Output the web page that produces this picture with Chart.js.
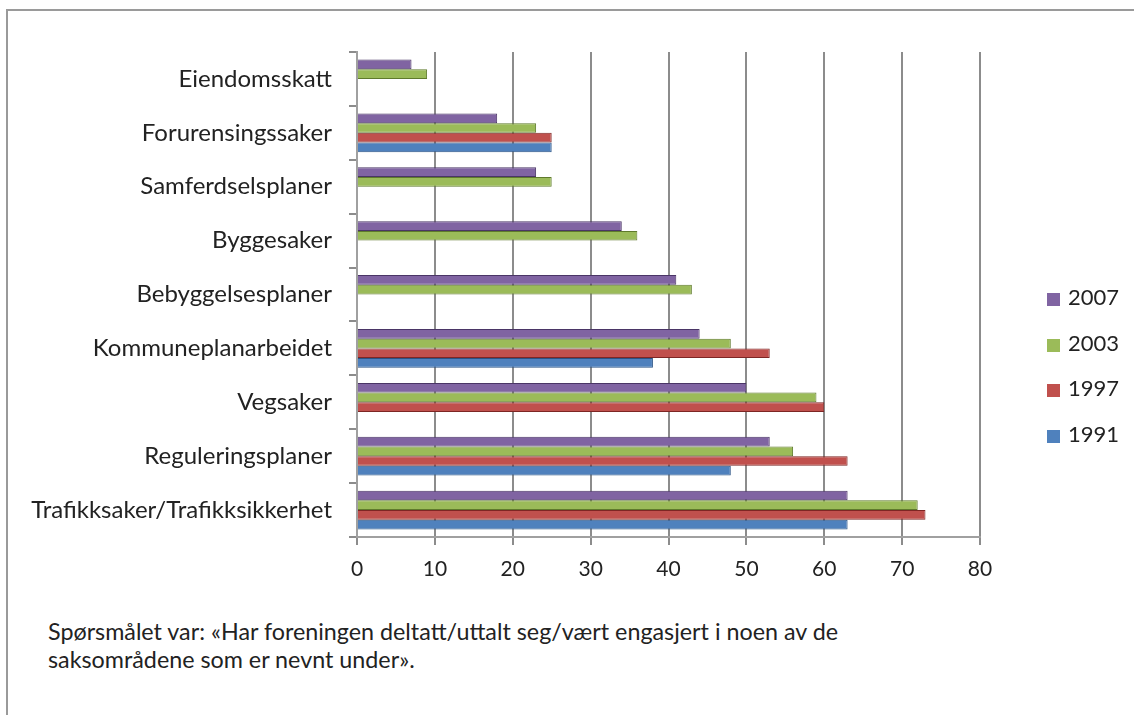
<!DOCTYPE html>
<html>
<head>
<meta charset="utf-8">
<script src="https://cdn.jsdelivr.net/npm/chart.js@4.4.1/dist/chart.umd.min.js"></script>
<style>
  html, body { margin: 0; padding: 0; background: #fff; }
  body { width: 1134px; height: 715px; position: relative; overflow: hidden; font-family: Lato, sans-serif; color: #222; }
  .frame { position: absolute; left: 6px; top: 9px; width: 1200px; height: 800px; border-left: 2px solid #9a9a9a; border-top: 2px solid #9a9a9a; }
  #wrap { position: absolute; left: 0; top: 0; width: 1134px; height: 600px; }
  .legend { position: absolute; left: 1047px; top: 285px; font-size: 22px; }
  .legend div { height: 45.7px; line-height: 24px; white-space: nowrap; }
  .legend span { display: inline-block; width: 13px; height: 13px; margin-right: 8px; vertical-align: -1px; }
  .note { position: absolute; left: 48px; top: 617px; font-size: 23.3px; line-height: 28px; }
</style>
</head>
<body>
<div class="frame"></div>
<div id="wrap"><canvas id="chart"></canvas></div>
<div class="legend" id="legend"></div>
<div class="note">Spørsmålet var: «Har foreningen deltatt/uttalt seg/vært engasjert i noen av de<br>saksområdene som er nevnt under».</div>
<script>
const categories = ['Eiendomsskatt', 'Forurensingssaker', 'Samferdselsplaner', 'Byggesaker', 'Bebyggelsesplaner', 'Kommuneplanarbeidet', 'Vegsaker', 'Reguleringsplaner', 'Trafikksaker/Trafikksikkerhet'];
const v2007 = [7, 18, 23, 34, 41, 44, 50, 53, 63];
const v2003 = [9, 23, 25, 36, 43, 48, 59, 56, 72];
const v1997 = [null, 25, null, null, null, 53, 60, 63, 73];
const v1991 = [null, 25, null, null, null, 38, null, 48, 63];
const xTicks = [0, 10, 20, 30, 40, 50, 60, 70, 80];

const series = [
  { label: '2007', data: v2007, color: '#8064a2', edge: '#4a3566' },
  { label: '2003', data: v2003, color: '#9bbb59', edge: '#5f7a2c' },
  { label: '1997', data: v1997, color: '#c0504d', edge: '#7d2624' },
  { label: '1991', data: v1991, color: '#4f81bd', edge: '#2a5385' }
];

const tickFont = { family: 'Lato', size: 21 };
const catFont = { family: 'Lato', size: 24 };

const chart = new Chart(document.getElementById('chart'), {
  type: 'bar',
  data: {
    labels: categories,
    datasets: series.map(s => ({
      label: s.label,
      data: s.data,
      backgroundColor: s.color,
      borderColor: s.edge,
      borderWidth: 1,
      barPercentage: 1,
      categoryPercentage: 0.72
    }))
  },
  options: {
    indexAxis: 'y',
    responsive: true,
    maintainAspectRatio: false,
    animation: false,
    layout: { padding: { top: 52, right: 154, bottom: 0, left: 0 } },
    scales: {
      x: {
        min: 0,
        max: 80,
        afterBuildTicks: scale => { scale.ticks = xTicks.map(v => ({ value: v })); },
        afterFit: scale => { scale.height = 63; },
        grid: { color: '#8c8c8c', lineWidth: 2, tickLength: 8 },
        border: { color: '#a0a0a0', width: 2 },
        ticks: { color: '#222', font: tickFont, padding: 12 }
      },
      y: {
        afterFit: scale => { scale.width = 357; },
        grid: { drawOnChartArea: false, offset: true, color: '#8c8c8c', lineWidth: 2, tickLength: 8 },
        border: { color: '#a0a0a0', width: 2 },
        ticks: { color: '#222', font: catFont, padding: 17 }
      }
    },
    plugins: {
      legend: { display: false },
      tooltip: { enabled: false }
    }
  }
});

document.getElementById('legend').innerHTML = chart.data.datasets
  .map(d => '<div><span style="background:' + d.backgroundColor + '"></span>' + d.label + '</div>')
  .join('');
</script>
</body>
</html>
